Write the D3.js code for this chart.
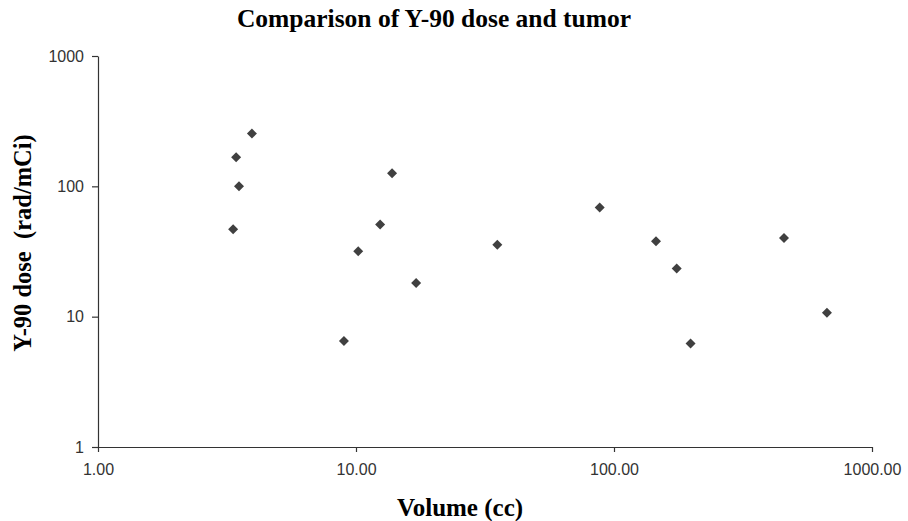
<!DOCTYPE html>
<html><head><meta charset="utf-8">
<script src="https://cdn.jsdelivr.net/npm/d3@7"></script>
<style>body{margin:0;background:#fff}svg{display:block}</style>
</head><body>
<script>
const volume = [3.95, 3.43, 3.52, 3.34, 13.8, 12.4, 10.2, 17.1, 8.98, 35.3, 88.0, 145.5, 175, 198, 456, 669];
const dose   = [254, 167, 100, 46.8, 126, 51, 31.8, 18.1, 6.5, 35.7, 68.7, 37.9, 23.4, 6.23, 40.2, 10.7];
const xTicks = [1, 10, 100, 1000];
const yTicks = [1, 10, 100, 1000];
const title = "Comparison of Y-90 dose and tumor";
const xTitle = "Volume (cc)";
const yTitle = "Y-90 dose\u00a0\u00a0(rad/mCi)";

const W = 908, H = 521;
const svg = d3.select("body").append("svg").attr("width", W).attr("height", H);
const x = d3.scaleLog().domain([1, 1000]).range([98, 872]);
const y = d3.scaleLog().domain([1, 1000]).range([447, 56]);

svg.append("g").attr("transform", `translate(0,${y(1)})`)
  .call(d3.axisBottom(x).tickValues(xTicks).tickFormat(d3.format(".2f")).tickSizeInner(5).tickSizeOuter(0).tickPadding(12));
svg.append("g").attr("transform", `translate(${x(1)},0)`)
  .call(d3.axisLeft(y).tickValues(yTicks).tickFormat(d3.format("d")).tickSizeInner(6).tickSizeOuter(0).tickPadding(8));
svg.selectAll(".domain, .tick line").attr("stroke", "#333").attr("stroke-width", 1.2);
svg.selectAll(".tick text").attr("font-family", "Liberation Sans, Arial, sans-serif").attr("font-size", 16).attr("fill", "#333");

const pts = volume.map((v, i) => ({v, d: dose[i]}));
svg.append("g").selectAll("path").data(pts).join("path")
  .attr("d", d3.symbol(d3.symbolSquare, 50))
  .attr("transform", d => `translate(${x(d.v)},${y(d.d)}) rotate(45)`)
  .attr("fill", "#404040");

svg.append("text").attr("x", 434).attr("y", 27).attr("text-anchor", "middle")
  .attr("font-family", "Liberation Serif, Times New Roman, serif").attr("font-weight", "bold").attr("font-size", 25.5)
  .text(title);
svg.append("text").attr("x", 460).attr("y", 516).attr("text-anchor", "middle")
  .attr("font-family", "Liberation Serif, Times New Roman, serif").attr("font-weight", "bold").attr("font-size", 25)
  .text(xTitle);
svg.append("text").attr("transform", "translate(31,243) rotate(-90)").attr("text-anchor", "middle")
  .attr("font-family", "Liberation Serif, Times New Roman, serif").attr("font-weight", "bold").attr("font-size", 24.5)
  .text(yTitle);
</script>
</body></html>
